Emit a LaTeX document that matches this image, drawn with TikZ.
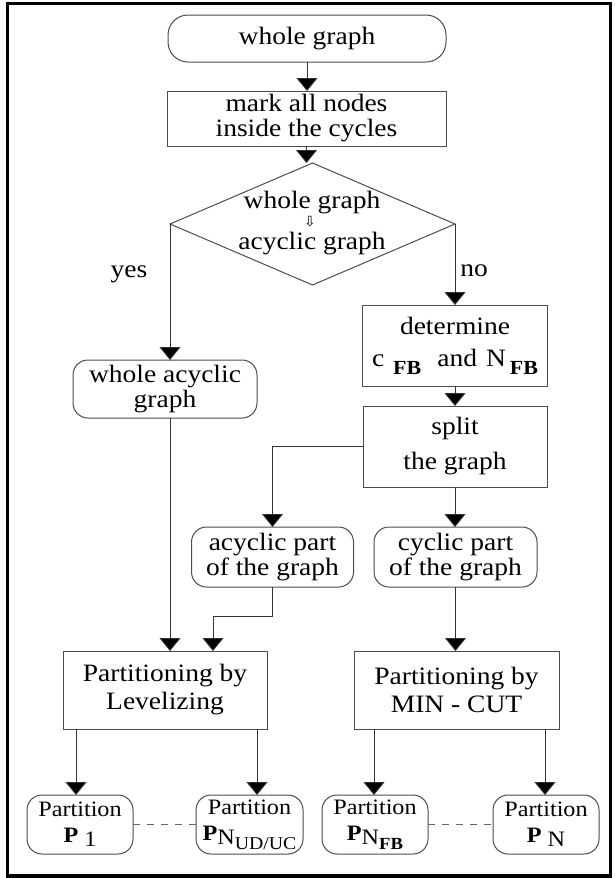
\documentclass[tikz,border=0pt]{standalone}
\usepackage{fontspec}
\setmainfont{Liberation Serif}[FakeStretch=1.1]
\newfontfamily\symfont{DejaVu Sans}
\usetikzlibrary{arrows.meta,shapes.geometric}
\newcommand\lowered[2]{\raisebox{-#1}{#2}}
\newcommand\subfnt{\fontsize{20}{20}\selectfont}
\newcommand\ssubfnt{\fontsize{18}{18}\selectfont}
\begin{document}
\begin{tikzpicture}[x=1pt,y=-1pt,
  every node/.style={inner sep=0pt, outer sep=0pt, align=center, font=\fontsize{25}{25}\selectfont},
  box/.style={draw=black!70, line width=1pt, rectangle},
  rbox/.style={box, rounded corners=15pt},
  conn/.style={draw=black!80, line width=0.9pt},
  arr/.style={conn, -{Triangle[width=21pt,length=13pt,fill=black]}},
  part/.style={rbox, minimum width=106pt, minimum height=59pt, font=\fontsize{22}{22}\selectfont},
  ]
\useasboundingbox (0,0) rectangle (614,878);
\draw[line width=3.5pt] (7.5,3.5) rectangle (610.5,876);

\node[rbox, rounded corners=20pt, minimum width=278pt, minimum height=47pt] (start) at (307,38.5) {whole graph};
\node[box, minimum width=279pt, minimum height=55pt] (mark) at (306.5,118.5) {mark all nodes\\inside the cycles};
\node[diamond, draw=black!70, line width=1pt, minimum width=285pt, minimum height=122pt] (dec) at (312.5,224) {};
\node (dtop) at (312,202.5) {whole graph};
\node (darr) at (310,222) {\symfont\fontsize{14}{14}\selectfont ⇩};
\node (dbot) at (312,243.5) {acyclic graph};
\node (yes) at (129,274) {yes};
\node (no) at (474,271) {no};
\node[rbox, minimum width=184pt, minimum height=58pt] (wag) at (165,389) {whole acyclic\\graph};
\node[box, minimum width=185pt, minimum height=81pt] (det) at (455,345.5) {determine\\[7pt]c\hspace{9pt}\lowered{8pt}{\subfnt\bfseries FB}\hspace{16pt}and\hspace{9pt}N\hspace{4pt}\lowered{8pt}{\subfnt\bfseries FB}};
\node[box, minimum width=184pt, minimum height=81pt] (split) at (455,446.5) {split\\[10pt]the graph};
\node[rbox, minimum width=162pt, minimum height=60pt] (acp) at (272.5,557) {acyclic part\\of the graph};
\node[rbox, minimum width=163pt, minimum height=60pt] (cp) at (455.5,557) {cyclic part\\of the graph};
\node[box, minimum width=204pt, minimum height=78pt] (lev) at (165,690) {Partitioning by\\[3pt]Levelizing};
\node[box, minimum width=205pt, minimum height=78pt] (mc) at (456.5,690) {Partitioning by\\[3pt]MIN - CUT};

\node[part] (p1) at (80,824.5) {Partition\\[4pt]\textbf{P}\hspace{6pt}\lowered{4pt}{1}};
\node[part, minimum width=107pt] (pud) at (249.5,824.5) {Partition\\[4pt]\textbf{P}\lowered{4pt}{N\lowered{5pt}{\ssubfnt UD/UC}}};
\node[part] (pfb) at (375,824.5) {Partition\\[4pt]\textbf{P}\lowered{4pt}{N\lowered{5pt}{\fontsize{17}{17}\selectfont\bfseries FB}}};
\node[part] (pn) at (546,824.5) {Partition\\[4pt]\textbf{P}\hspace{6pt}\lowered{4pt}{N}};

\coordinate (colL) at (170,0);
\coordinate (elb) at (213,616);
\coordinate (a1) at (76,0);
\coordinate (a2) at (257,0);
\coordinate (a3) at (374,0);
\coordinate (a4) at (545,0);

\draw[arr] (start.south) -- (start.south |- mark.north);
\draw[arr] (mark.south) -- (mark.south |- dec.north);
\draw[arr] (dec.west) -- (dec.west |- wag.north);
\draw[arr] (dec.east) -- (dec.east |- det.north);
\draw[arr] (det.south) -- (det.south |- split.north);
\draw[arr] (split.west) -| (acp.north);
\draw[arr] (split.south) -- (split.south |- cp.north);
\draw[arr] (wag.south -| colL) -- (lev.north -| colL);
\draw[arr] (acp.south) |- (elb) -- (elb |- lev.north);
\draw[arr] (cp.south) -- (cp.south |- mc.north);
\draw[arr] (lev.south -| a1) -- (p1.north -| a1);
\draw[arr] (lev.south -| a2) -- (pud.north -| a2);
\draw[arr] (mc.south -| a3) -- (pfb.north -| a3);
\draw[arr] (mc.south -| a4) -- (pn.north -| a4);
\draw[conn, draw=black!60, dash pattern=on 7pt off 7pt] (p1.east) -- (pud.west);
\draw[conn, draw=black!60, dash pattern=on 7pt off 7pt] (pfb.east) -- (pn.west);
\end{tikzpicture}
\end{document}
